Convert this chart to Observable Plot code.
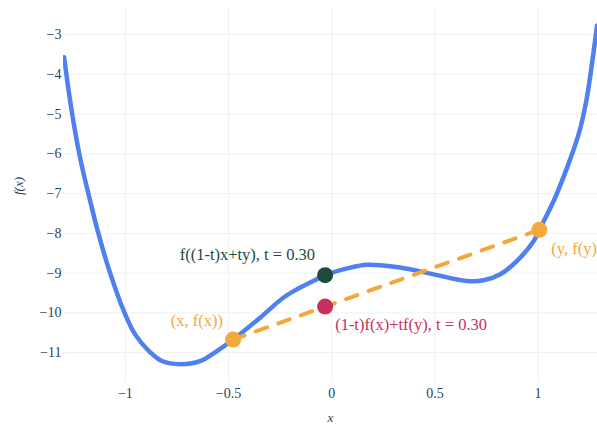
<!DOCTYPE html>
<html><head><meta charset="utf-8">
<script src="https://cdn.jsdelivr.net/npm/d3@7"></script>
<script src="https://cdn.jsdelivr.net/npm/@observablehq/plot@0.6"></script>
<style>
body{margin:0;background:#fff}
</style></head><body><div id="chart"></div>
<script>
// curve samples
const curveX = [-1.297,-1.263,-1.220,-1.171,-1.131,-1.074,-1.004,-0.953,-0.880,-0.823,-0.735,-0.638,-0.565,-0.478,-0.347,-0.235,-0.167,-0.090,-0.032,0.090,0.172,0.250,0.332,0.494,0.656,0.736,0.817,0.898,0.979,1.006,1.076,1.141,1.197,1.234,1.259,1.286];
const curveY = [-3.57,-4.83,-6.09,-7.18,-8.00,-9.00,-10.00,-10.54,-10.99,-11.21,-11.29,-11.21,-10.99,-10.67,-10.12,-9.62,-9.40,-9.20,-9.05,-8.86,-8.79,-8.81,-8.86,-9.03,-9.20,-9.18,-9.03,-8.69,-8.19,-7.91,-7.18,-6.34,-5.50,-4.66,-3.82,-2.77];

// endpoints (x, f(x)) and (y, f(y))
const endX = [-0.478, 1.006];
const endY = [-10.67, -7.91];
const endLabels = ["(x, f(x))", "(y, f(y))"];

// interpolated point, t = 0.30
const midX = [-0.032];
const midFY = [-9.05];      // f((1-t)x+ty)
const chordY = [-9.84];     // (1-t)f(x)+tf(y)
const midLabel = "f((1-t)x+ty), t = 0.30";
const chordLabel = "(1-t)f(x)+tf(y), t = 0.30";

const xTicks = [-1, -0.5, 0, 0.5, 1];
const yTicks = [-11, -10, -9, -8, -7, -6, -5, -4, -3];

const curve = curveX.map((x, i) => ({x, y: curveY[i]}));
const ends = endX.map((x, i) => ({x, y: endY[i], label: endLabels[i]}));
const fmt = d => (d < 0 ? "\u2212" : "") + Math.abs(d);

const FONT = '"Liberation Serif", serif';
const ORANGE = "#f4a73a", BLUE = "#4f80ef", GREEN = "#1d4a3a", RED = "#c8305d", INK = "#2a3f5f", GRID = "#edf0f5";

const chart = Plot.plot({
  width: 597, height: 427,
  marginTop: 7, marginBottom: 45, marginLeft: 63, marginRight: 0,
  style: {fontFamily: FONT, fontSize: "14px", color: INK, background: "#fff", overflow: "visible"},
  x: {domain: [-1.3, 1.288]},
  y: {domain: [-11.75, -2.32]},
  marks: [
    Plot.gridX(xTicks, {stroke: GRID, strokeOpacity: 1, strokeWidth: 1}),
    Plot.gridY(yTicks, {stroke: GRID, strokeOpacity: 1, strokeWidth: 1}),
    Plot.axisX(xTicks, {tickSize: 0, tickPadding: 6, tickFormat: fmt, label: null, fill: INK, fontSize: 14}),
    Plot.axisY(yTicks, {tickSize: 0, tickPadding: 2, tickFormat: fmt, label: null, fill: INK, fontSize: 14}),
    Plot.text(["x"], {frameAnchor: "bottom", dy: 39, fontStyle: "italic", fill: INK, fontSize: 13}),
    Plot.text(["f(x)"], {frameAnchor: "left", dx: -45, rotate: -90, fontStyle: "italic", fill: INK, fontSize: 13}),
    Plot.line(curve, {x: "x", y: "y", stroke: BLUE, strokeWidth: 4.5, curve: "catmull-rom", clip: true}),
    Plot.line(ends, {x: "x", y: "y", stroke: ORANGE, strokeWidth: 4, strokeDasharray: "12,12"}),
    Plot.dot(ends, {x: "x", y: "y", r: 8, fill: ORANGE}),
    Plot.dot(midX, {x: d => d, y: () => midFY[0], r: 8, fill: GREEN}),
    Plot.dot(midX, {x: d => d, y: () => chordY[0], r: 8, fill: RED}),
    Plot.text([ends[0]], {x: "x", y: "y", text: "label", textAnchor: "end", dx: -10, dy: -19, fill: ORANGE, fontSize: 16.5}),
    Plot.text([ends[1]], {x: "x", y: "y", text: "label", textAnchor: "start", dx: 12, dy: 19, fill: ORANGE, fontSize: 16.5}),
    Plot.text(midX, {x: d => d, y: () => midFY[0], text: () => midLabel, textAnchor: "end", dx: -10, dy: -20, fill: GREEN, fontSize: 16.5}),
    Plot.text(midX, {x: d => d, y: () => chordY[0], text: () => chordLabel, textAnchor: "start", dx: 10, dy: 18, fill: RED, fontSize: 16.5})
  ]
});
document.getElementById("chart").appendChild(chart);
</script></body></html>
